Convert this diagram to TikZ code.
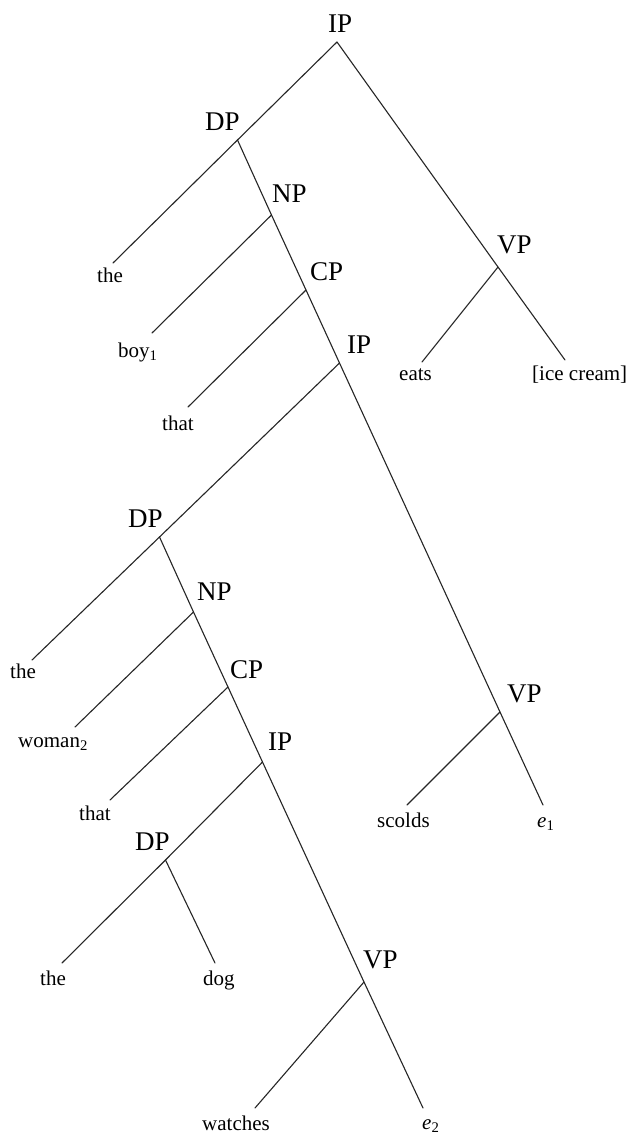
\documentclass[tikz,border=0pt]{standalone}
\usepackage{fontspec}
\setmainfont{Liberation Serif}
\tikzset{
  cat/.style={anchor=base west, inner sep=0pt, font=\fontsize{27}{30}\selectfont},
  word/.style={anchor=base west, inner sep=0pt, font=\fontsize{21}{24}\selectfont},
  branch/.style={draw=black!85, line width=1.1pt, line cap=round}
}
\begin{document}
\begin{tikzpicture}[x=1pt,y=-1pt]
\fill[white] (0,0) rectangle (628,1136);
\useasboundingbox (0,0) rectangle (628,1136);

% branching points
\coordinate (ip0) at (337,42);
\coordinate (dp1) at (237.5,140);
\coordinate (np1) at (271.5,215);
\coordinate (cp1) at (306,290);
\coordinate (ip1) at (339.5,363);
\coordinate (vp0) at (498,267);
\coordinate (dp2) at (159.5,537);
\coordinate (np2) at (193.5,612);
\coordinate (cp2) at (228,687);
\coordinate (ip2) at (262.5,762);
\coordinate (vp1) at (500,712);
\coordinate (dp3) at (165.5,860);
\coordinate (vp2) at (364,982);

% free ends of the branches
\coordinate (theA-end) at (113,263);
\coordinate (boy-end) at (152,333);
\coordinate (thatA-end) at (188,407);
\coordinate (eats-end) at (422,362);
\coordinate (ice-end) at (565,360);
\coordinate (theB-end) at (32,660);
\coordinate (woman-end) at (75,727);
\coordinate (thatB-end) at (110,800);
\coordinate (scolds-end) at (407,805);
\coordinate (e1-end) at (543,805);
\coordinate (theC-end) at (62,963);
\coordinate (dog-end) at (215,963);
\coordinate (watches-end) at (255,1108);
\coordinate (e2-end) at (423,1108);

% category labels
\node[cat] (lIP0) at (328,32) {IP};
\node[cat] (lDP1) at (205,130) {DP};
\node[cat] (lNP1) at (272,202) {NP};
\node[cat] (lCP1) at (310,280) {CP};
\node[cat] (lIP1) at (347,353) {IP};
\node[cat] (lVP0) at (497,253) {VP};
\node[cat] (lDP2) at (128,527) {DP};
\node[cat] (lNP2) at (197,600) {NP};
\node[cat] (lCP2) at (230,678) {CP};
\node[cat] (lIP2) at (268,750) {IP};
\node[cat] (lVP1) at (507,702) {VP};
\node[cat] (lDP3) at (135,850) {DP};
\node[cat] (lVP2) at (363,968) {VP};

% words
\node[word] (theA) at (97,282) {the};
\node[word] (boy) at (118,357) {boy\textsubscript{1}};
\node[word] (thatA) at (162,430) {that};
\node[word] (eats) at (399,380) {eats};
\node[word] (ice) at (532,380) {[ice cream]};
\node[word] (theB) at (10,678) {the};
\node[word] (woman) at (18,747) {woman\textsubscript{2}};
\node[word] (thatB) at (79,820) {that};
\node[word] (scolds) at (377,827) {scolds};
\node[word] (e1) at (537,827) {\textit{e}\textsubscript{1}};
\node[word] (theC) at (40,985) {the};
\node[word] (dog) at (203,985) {dog};
\node[word] (watches) at (202,1130) {watches};
\node[word] (e2) at (422,1129) {\textit{e}\textsubscript{2}};

% branches
\draw[branch] (ip0) -- (dp1) -- (theA-end);
\draw[branch] (ip0) -- (vp0) -- (ice-end);
\draw[branch] (vp0) -- (eats-end);
\draw[branch] (dp1) -- (np1) -- (cp1) -- (ip1) -- (vp1) -- (e1-end);
\draw[branch] (np1) -- (boy-end);
\draw[branch] (cp1) -- (thatA-end);
\draw[branch] (vp1) -- (scolds-end);
\draw[branch] (ip1) -- (dp2) -- (theB-end);
\draw[branch] (dp2) -- (np2) -- (cp2) -- (ip2) -- (vp2) -- (e2-end);
\draw[branch] (np2) -- (woman-end);
\draw[branch] (cp2) -- (thatB-end);
\draw[branch] (ip2) -- (dp3) -- (theC-end);
\draw[branch] (dp3) -- (dog-end);
\draw[branch] (vp2) -- (watches-end);
\end{tikzpicture}
\end{document}
